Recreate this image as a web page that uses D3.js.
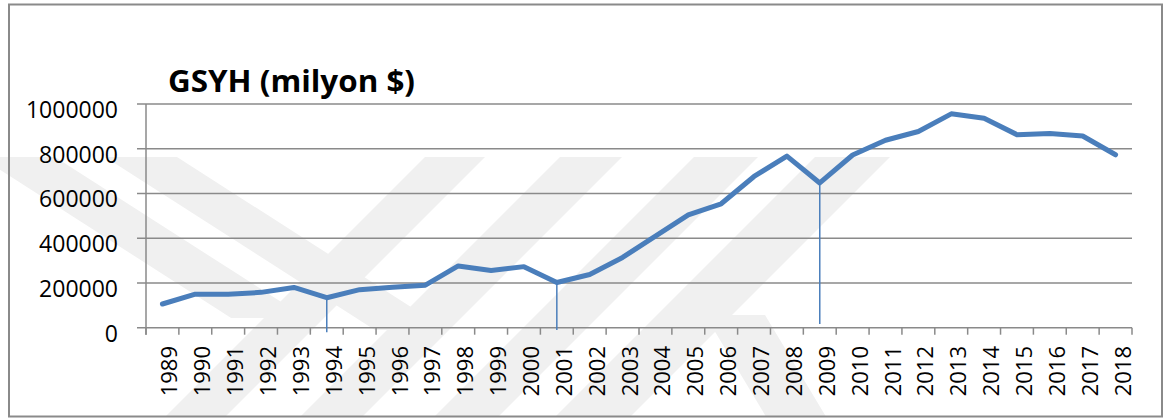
<!DOCTYPE html>
<html>
<head>
<meta charset="utf-8">
<script src="https://cdn.jsdelivr.net/npm/d3@7"></script>
<style>
  html, body { margin: 0; padding: 0; background: #fff; }
  svg { display: block; }
  text { font-family: "Open Sans", "DejaVu Sans", sans-serif; fill: #000; }
</style>
</head>
<body>
<svg id="chart" width="1175" height="419"></svg>
<script>
// categories (years) and values
const years = ['1989', '1990', '1991', '1992', '1993', '1994', '1995', '1996', '1997', '1998',
  '1999', '2000', '2001', '2002', '2003', '2004', '2005', '2006', '2007', '2008',
  '2009', '2010', '2011', '2012', '2013', '2014', '2015', '2016', '2017', '2018'];
const gdp = [106000, 150000, 149000, 158000, 180000, 134000, 170000, 181000, 190000, 276000,
  256000, 273000, 202000, 238000, 314000, 409000, 504000, 554000, 676000, 767000,
  647000, 772000, 838000, 877000, 956000, 936000, 863000, 868000, 857000, 773000];
const yTicks = [0, 200000, 400000, 600000, 800000, 1000000];
// crisis years marked with a thin drop line, and where each line stops
const markYears = ['1994', '2001', '2009'];
const markEnds = [-20000, -10000, 16000];
const title = 'GSYH (milyon $)';

const svg = d3.select('#chart');
const margin = { left: 146, right: 1132, top: 104, bottom: 327.7 };
const blue = '#4a7ebb';
const grey = '#8a8a8a';

// faint diagonal watermark in the background
const wm = svg.append('g').attr('fill', '#f0f0f0');
const band = (x0, x1, y0, y1, slope) =>
  [[x0, y0], [x1, y0], [x1 + slope * (y1 - y0), y1], [x0 + slope * (y1 - y0), y1]];
[
  band(-20, 55, 157, 318, 1.56),
  band(105, 177, 157, 330, 1.56),
  band(425, 485, 157, 417, -1.0),
  band(560, 622, 157, 417, -1.0),
  band(694, 758, 157, 417, -1.0),
  band(815, 890, 157, 417, -1.0),
  band(705, 765, 315, 417, 0.6)
].forEach(p => wm.append('polygon').attr('points', p.map(d => d.join(',')).join(' ')));

// outer frame
svg.append('rect')
  .attr('x', 9).attr('y', 4.5)
  .attr('width', 1153).attr('height', 412)
  .attr('fill', 'none')
  .attr('stroke', grey)
  .attr('stroke-width', 2);

const x = d3.scaleBand().domain(years).range([margin.left, margin.right]).padding(0);
const y = d3.scaleLinear().domain([0, 1000000]).range([margin.bottom, margin.top]);
const cx = d => x(d) + x.bandwidth() / 2;

// horizontal gridlines
svg.append('g')
  .selectAll('line')
  .data(yTicks)
  .join('line')
  .attr('x1', margin.left - 9)
  .attr('x2', margin.right)
  .attr('y1', d => y(d))
  .attr('y2', d => y(d))
  .attr('stroke', grey)
  .attr('stroke-width', 1.5);

// y axis line and labels
svg.append('line')
  .attr('x1', margin.left).attr('x2', margin.left)
  .attr('y1', y(1000000)).attr('y2', margin.bottom + 7)
  .attr('stroke', grey).attr('stroke-width', 1.5);

svg.append('g')
  .selectAll('text')
  .data(yTicks)
  .join('text')
  .attr('x', 118)
  .attr('y', d => y(d) + 14)
  .attr('text-anchor', 'end')
  .style('font-size', '23px')
  .text(d => d);

// x ticks at the category boundaries
const bounds = years.map(d => x(d)).concat([margin.right]);
svg.append('g')
  .selectAll('line')
  .data(bounds)
  .join('line')
  .attr('x1', d => d).attr('x2', d => d)
  .attr('y1', margin.bottom).attr('y2', margin.bottom + 7)
  .attr('stroke', grey).attr('stroke-width', 1.5);

// rotated year labels
svg.append('g')
  .selectAll('text')
  .data(years)
  .join('text')
  .attr('transform', d => `translate(${cx(d) + 15},346) rotate(-90)`)
  .attr('text-anchor', 'end')
  .style('font-size', '22px')
  .text(d => d);

// drop lines at the crisis years
svg.append('g')
  .selectAll('line')
  .data(markYears)
  .join('line')
  .attr('x1', d => cx(d))
  .attr('x2', d => cx(d))
  .attr('y1', d => y(gdp[years.indexOf(d)]))
  .attr('y2', (d, i) => y(markEnds[i]))
  .attr('stroke', blue)
  .attr('stroke-width', 1.5);

// the series line
const line = d3.line()
  .x((d, i) => cx(years[i]))
  .y(d => y(d));

svg.append('path')
  .datum(gdp)
  .attr('d', line)
  .attr('fill', 'none')
  .attr('stroke', blue)
  .attr('stroke-width', 5)
  .attr('stroke-linejoin', 'round')
  .attr('stroke-linecap', 'round');

// title
svg.append('text')
  .attr('x', 168)
  .attr('y', 92)
  .attr('textLength', 247)
  .attr('lengthAdjust', 'spacingAndGlyphs')
  .style('font-size', '30px')
  .style('font-weight', 'bold')
  .text(title);
</script>
</body>
</html>
